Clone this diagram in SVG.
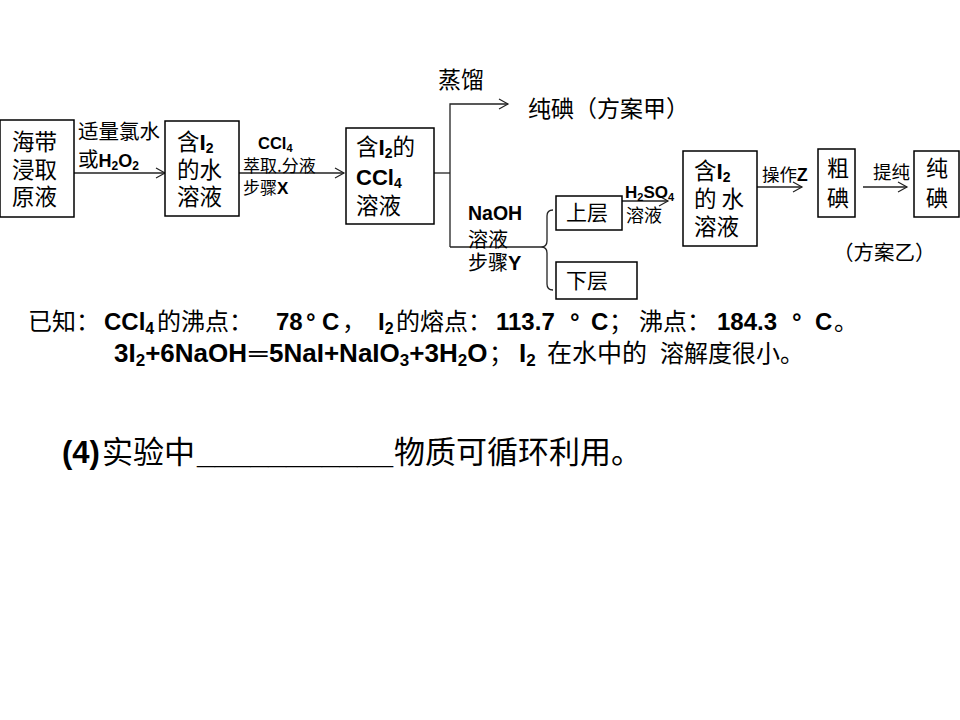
<svg xmlns="http://www.w3.org/2000/svg" width="960" height="720" viewBox="0 0 960 720">
<style>
.box{fill:#fff;stroke:#000;stroke-width:1.5}
.ln{fill:none;stroke:#222;stroke-width:1.3}
.t{font-family:"Noto Sans CJK SC","Liberation Sans",sans-serif;fill:#000}
.b{font-family:"Liberation Sans","Noto Sans CJK SC",sans-serif;font-weight:bold}
</style>
<defs>
<marker id="ah" markerWidth="12" markerHeight="12" refX="10" refY="6" orient="auto" markerUnits="userSpaceOnUse">
<path d="M1,1 L10,6 L1,11" fill="none" stroke="#222" stroke-width="1.2"/>
</marker>
</defs>
<rect width="960" height="720" fill="#fff"/>

<g id="connectors">
<line class="ln" x1="74" y1="173" x2="165" y2="173" marker-end="url(#ah)"/>
<line class="ln" x1="239" y1="173" x2="344" y2="173" marker-end="url(#ah)"/>
<polyline class="ln" points="434,173 450,173"/>
<polyline class="ln" points="450,247 450,104 508,104" marker-end="url(#ah)"/>
<polyline class="ln" points="450,247 541,247"/>
<path class="ln" d="M541,247 Q547,247 547,241 V216 Q547,210 553,210 M547,253 V284 Q547,290 553,290 M547,241 Q547,247 541,247 Q547,247 547,253"/>
<line class="ln" x1="622" y1="201" x2="668" y2="201" marker-end="url(#ah)"/>
<line class="ln" x1="757" y1="187" x2="802" y2="187" marker-end="url(#ah)"/>
<line class="ln" x1="863" y1="187" x2="907" y2="187" marker-end="url(#ah)"/>
</g>

<g id="n1">
<rect class="box" x="0" y="120" width="74" height="97"/>
<text class="t" font-size="22.5" x="12" y="150">海带</text>
<text class="t" font-size="22.5" x="12" y="178">浸取</text>
<text class="t" font-size="22.5" x="12" y="205">原液</text>
</g>
<g id="l1">
<text class="t" font-size="20.5" x="78" y="139">适量氯水</text>
<text class="t" font-size="20.5" x="78" y="167">或<tspan class="b" font-size="18">H<tspan font-size="12" dy="3">2</tspan><tspan dy="-3">O</tspan><tspan font-size="12" dy="3">2</tspan></tspan></text>
</g>
<g id="n2">
<rect class="box" x="165" y="121" width="74" height="95"/>
<text class="t" font-size="22.5" x="177" y="150">含<tspan class="b">I<tspan font-size="14" dy="3">2</tspan></tspan></text>
<text class="t" font-size="22.5" x="177" y="178">的水</text>
<text class="t" font-size="22.5" x="177" y="205">溶液</text>
</g>
<g id="l2">
<text class="t b" font-size="16.5" x="258" y="149">CCl<tspan font-size="11" dy="3">4</tspan></text>
<text class="t" font-size="17" x="243" y="172">萃取.分液</text>
<text class="t" font-size="17" x="243" y="194">步骤<tspan class="b">X</tspan></text>
</g>
<g id="n3">
<rect class="box" x="346" y="128" width="88" height="96"/>
<text class="t" font-size="22.5" x="356" y="155">含<tspan class="b">I<tspan font-size="14" dy="3">2</tspan></tspan><tspan dy="-3">的</tspan></text>
<text class="t b" font-size="22" x="356" y="185">CCl<tspan font-size="14" dy="3">4</tspan></text>
<text class="t" font-size="22.5" x="356" y="214">溶液</text>
</g>
<g id="l3">
<text class="t" font-size="23" x="438" y="88">蒸馏</text>
</g>
<g id="n4">
<text class="t" font-size="23" x="528" y="117">纯碘（方案甲）</text>
</g>
<g id="l4">
<text class="t b" font-size="19.5" x="468" y="220">NaOH</text>
<text class="t" font-size="20" x="468" y="247">溶液</text>
<text class="t" font-size="20" x="468" y="270">步骤<tspan class="b">Y</tspan></text>
</g>
<g id="n5">
<rect class="box" x="556" y="196" width="66" height="34"/>
<text class="t" font-size="21" x="566" y="220">上层</text>
</g>
<g id="n6">
<rect class="box" x="556" y="262" width="81" height="37"/>
<text class="t" font-size="21" x="566" y="288">下层</text>
</g>
<g id="l5">
<text class="t b" font-size="17" x="625" y="198">H<tspan font-size="11" dy="3">2</tspan><tspan dy="-3">SO</tspan><tspan font-size="11" dy="3">4</tspan></text>
<text class="t" font-size="18" x="626" y="222">溶液</text>
</g>
<g id="n7">
<rect class="box" x="683" y="151" width="74" height="95"/>
<text class="t" font-size="22.5" x="694" y="179">含<tspan class="b">I<tspan font-size="14" dy="3">2</tspan></tspan></text>
<text class="t" font-size="22.5" x="694" y="207">的 水</text>
<text class="t" font-size="22.5" x="694" y="235">溶液</text>
</g>
<g id="l6">
<text class="t" font-size="17.5" x="762" y="181">操作<tspan class="b">Z</tspan></text>
</g>
<g id="n8">
<rect class="box" x="818" y="149" width="37" height="68"/>
<text class="t" font-size="22" x="827" y="176">粗</text>
<text class="t" font-size="22" x="827" y="206">碘</text>
</g>
<g id="l7">
<text class="t" font-size="18.5" x="873" y="179">提纯</text>
</g>
<g id="n9">
<rect class="box" x="914" y="151" width="45" height="66"/>
<text class="t" font-size="22" x="926" y="176">纯</text>
<text class="t" font-size="22" x="926" y="206">碘</text>
</g>
<g id="l8">
<text class="t" font-size="20.5" x="833" y="260">（方案乙）</text>
</g>

<g id="notes">
<text class="t" font-size="24" y="330"><tspan x="28">已知：</tspan><tspan class="b" x="104">CCl<tspan font-size="16" dy="4">4</tspan></tspan><tspan x="157" dy="-4">的沸点：</tspan><tspan class="b" x="276">78</tspan><tspan class="b" x="306">°</tspan><tspan class="b" x="322">C</tspan><tspan x="342">，</tspan><tspan class="b" x="378">I<tspan font-size="16" dy="4">2</tspan></tspan><tspan x="396" dy="-4">的熔点：</tspan><tspan class="b" x="496">113.7</tspan><tspan class="b" x="570">°</tspan><tspan class="b" x="591">C</tspan><tspan x="609">；</tspan><tspan x="639">沸点：</tspan><tspan class="b" x="717">184.3</tspan><tspan class="b" x="792">°</tspan><tspan class="b" x="815">C</tspan><tspan x="834">。</tspan></text>
<text class="t" font-size="24" y="362"><tspan class="b" font-size="26" x="114">3I<tspan font-size="17" dy="4">2</tspan><tspan dy="-4">+6NaOH</tspan></tspan><tspan class="b" font-size="26" x="249">═</tspan><tspan class="b" font-size="26" x="269">5NaI+NaIO<tspan font-size="17" dy="4">3</tspan><tspan dy="-4">+3H</tspan><tspan font-size="17" dy="4">2</tspan><tspan dy="-4">O</tspan></tspan><tspan x="489">；</tspan><tspan class="b" font-size="26" x="519">I<tspan font-size="17" dy="4">2</tspan></tspan><tspan x="547" dy="-4" font-size="25">在水中的</tspan><tspan x="660">溶解度很小。</tspan></text>
<text class="t" font-size="31" y="463"><tspan class="b" x="62">(4)</tspan><tspan x="102">实验中</tspan><tspan class="b" x="197" textLength="196" lengthAdjust="spacingAndGlyphs">___________</tspan><tspan x="394">物质可循环利用。</tspan></text>
</g>
</svg>
